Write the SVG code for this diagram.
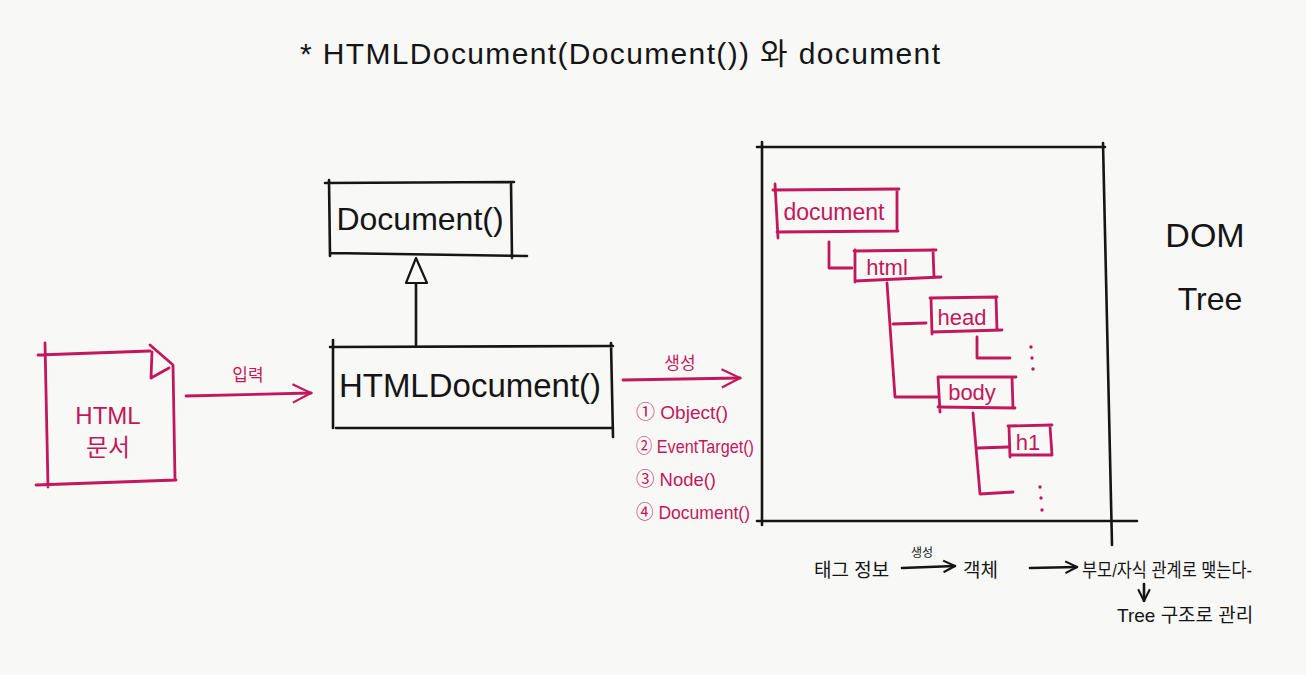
<svg xmlns="http://www.w3.org/2000/svg" width="1306" height="675" viewBox="0 0 1306 675">
<defs>
<style>
.k{stroke:#151515;stroke-width:2.6;fill:none;stroke-linecap:round;stroke-linejoin:round}
.m{stroke:#c2185b;stroke-width:2.8;fill:none;stroke-linecap:round;stroke-linejoin:round}
.tk{fill:#151515;font-family:"Liberation Sans","Noto Sans CJK KR",sans-serif}
.tm{fill:#c2185b;font-family:"Liberation Sans","Noto Sans CJK KR",sans-serif}
</style>
<marker id="om" viewBox="0 0 12 12" refX="11" refY="6" markerWidth="22" markerHeight="22" markerUnits="userSpaceOnUse" orient="auto"><path d="M1,1 L11,6 L1,11" fill="none" stroke="#c2185b" stroke-width="1.2"/></marker>
<marker id="ok" viewBox="0 0 12 12" refX="11" refY="6" markerWidth="14" markerHeight="14" markerUnits="userSpaceOnUse" orient="auto"><path d="M1,1 L11,6 L1,11" fill="none" stroke="#151515" stroke-width="1.8"/></marker>
</defs>
<rect width="1306" height="675" fill="#f8f8f7"/>

<text id="title" class="tk" x="300" y="64" font-size="30" textLength="640" lengthAdjust="spacing">*  HTMLDocument(Document()) 와  document</text>

<g id="document-class">
<path class="k" d="M325,183 L514,182 M329,180 L330,256 M511,182 L512,258 M330,253 L527,256"/>
<text class="tk" x="420" y="230" font-size="32" text-anchor="middle">Document()</text>
</g>

<g id="htmldocument-class">
<path class="k" d="M330,347 L613,346 M333,340 L333,428 M611,343 L613,437 M336,428 L613,428"/>
<text class="tk" x="470" y="397" font-size="33" text-anchor="middle">HTMLDocument()</text>
</g>

<g id="html-file">
<path class="m" d="M38,355 L150,351 M45,343 L48,487 M36,485 L176,480 M173,365 L175,480 M150,345 L172,364 M152,352 L151,378 L169,368"/>
<text class="tm" x="108" y="424" font-size="24" text-anchor="middle">HTML</text>
<text class="tm" x="108" y="456" font-size="24" text-anchor="middle">문서</text>
</g>

<g id="dom-tree">
<path class="k" d="M757,147 L1105,147 M762,142 L762,525 M1103,143 L1112,545 M757,521 L1137,521"/>
<text class="tk" x="1205" y="247" font-size="34" text-anchor="middle">DOM</text>
<text class="tk" x="1210" y="310" font-size="32" text-anchor="middle">Tree</text>
<g id="node-document">
<path class="m" d="M773,190 L899,189 M775,184 L778,238 M897,190 L897,231 M777,232 L898,231"/>
<text class="tm" x="834" y="220" font-size="23" text-anchor="middle">document</text>
</g>
<g id="node-html">
<path class="m" d="M854,251 L936,250 M855,250 L855,282 M933,250 L934,277 M855,281 L941,277"/>
<text class="tm" x="887" y="275" font-size="22" text-anchor="middle">html</text>
</g>
<g id="node-head">
<path class="m" d="M930,298 L997,297 M931,298 L932,334 M996,297 L997,330 M932,332 L1002,330"/>
<text class="tm" x="962" y="325" font-size="22" text-anchor="middle">head</text>
</g>
<g id="node-body">
<path class="m" d="M938,377 L1016,377 M938,377 L940,412 M1012,377 L1013,408 M938,407 L1015,408"/>
<text class="tm" x="972" y="400" font-size="22" text-anchor="middle">body</text>
</g>
<g id="node-h1">
<path class="m" d="M1008,426 L1052,425 M1009,427 L1010,457 M1050,426 L1052,455 M1010,455 L1052,455"/>
<text class="tm" x="1028" y="450" font-size="22" text-anchor="middle">h1</text>
</g>
<g id="tree-lines">
<path class="m" d="M829,242 L829,268 L852,268"/>
<path class="m" d="M887,283 L895,397 L937,397 M893,324 L926,323"/>
<path class="m" d="M977,337 L977,358 L1010,358"/>
<path class="m" d="M973,413 L980,494 L1013,492 M978,448 L1008,447"/>
<circle cx="1031" cy="347" r="1.7" fill="#c2185b"/><circle cx="1032" cy="358" r="1.7" fill="#c2185b"/><circle cx="1033" cy="369" r="1.7" fill="#c2185b"/>
<circle cx="1040" cy="487" r="1.7" fill="#c2185b"/><circle cx="1041" cy="498" r="1.7" fill="#c2185b"/><circle cx="1042" cy="510" r="1.7" fill="#c2185b"/>
</g>
</g>

<g id="connectors">
<path class="k" d="M416,345 L416,284"/>
<path d="M416,258 L406,283 L427,283 Z" fill="none" stroke="#151515" stroke-width="2.2" stroke-linejoin="round"/>
<path class="m" d="M186,396 L311,393" marker-end="url(#om)"/>
<text class="tm" x="248" y="381" font-size="17" text-anchor="middle">입력</text>
<path class="m" d="M623,380 L740,378" marker-end="url(#om)"/>
<text class="tm" x="680" y="369" font-size="17" text-anchor="middle">생성</text>
</g>

<g id="prototype-list" class="tm" font-size="19">
<text x="636" y="419" textLength="92" lengthAdjust="spacingAndGlyphs">① Object()</text>
<text x="636" y="453" textLength="118" lengthAdjust="spacingAndGlyphs">② EventTarget()</text>
<text x="636" y="486" textLength="80" lengthAdjust="spacingAndGlyphs">③ Node()</text>
<text x="636" y="519" textLength="114" lengthAdjust="spacingAndGlyphs">④ Document()</text>
</g>

<g id="bottom-notes">
<text class="tk" x="814" y="577" font-size="19">태그 정보</text>
<text class="tk" x="922" y="557" font-size="12" text-anchor="middle">생성</text>
<path class="k" d="M902,568 L955,566" stroke-width="2" marker-end="url(#ok)"/>
<text class="tk" x="963" y="577" font-size="19">객체</text>
<path class="k" d="M1030,568 L1077,567" stroke-width="2" marker-end="url(#ok)"/>
<text class="tk" x="1082" y="577" font-size="19" textLength="170" lengthAdjust="spacingAndGlyphs">부모/자식 관계로 맺는다-</text>
<path class="k" d="M1144,584 L1144,601" stroke-width="2" marker-end="url(#ok)"/>
<text class="tk" x="1117" y="622" font-size="19">Tree 구조로 관리</text>
</g>
</svg>
